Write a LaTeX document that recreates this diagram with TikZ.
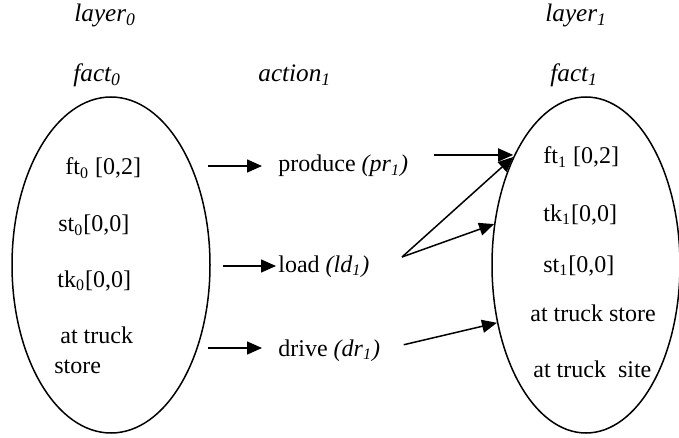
\documentclass[12pt,tikz,border=0pt]{standalone}
\usepackage{fontspec}
\setmainfont{Liberation Serif}
\usetikzlibrary{shapes.geometric,arrows.meta}

\begin{document}
\begin{tikzpicture}[x=0.5pt,y=-0.5pt,
        lbl/.style={anchor=base west, inner sep=0pt},
        head/.style={lbl, font=\fontsize{12.6}{15}\selectfont\itshape},
        factset/.style={draw, ellipse, line width=0.75pt, minimum width=#1, minimum height=168pt, inner sep=0pt},
        arr/.style={-{Triangle[length=7.5pt,width=6.5pt]}, line width=0.75pt}]
            \useasboundingbox (0,0) rectangle (679,438);
            % headings
            \node[head] (layer0) at (74,22) {layer\textsubscript{0}};
            \node[head] (layer1) at (545,22) {layer\textsubscript{1}};
            \node[head] (fact0) at (73,82) {fact\textsubscript{0}};
            \node[head] (action1) at (258,82) {action\textsubscript{1}};
            \node[head] (fact1) at (550,82) {fact\textsubscript{1}};
            % the two fact sets
            \node[factset=99pt] (set0) at (111,265) {};
            \node[factset=94pt] (set1) at (586,265) {};
            \node[lbl] (ft0) at (65,175) {ft\textsubscript{0} [0,2]};
            \node[lbl] (st0) at (58,232) {st\textsubscript{0}[0,0]};
            \node[lbl] (tk0) at (57,287) {tk\textsubscript{0}[0,0]};
            \node[lbl, align=left] (ts0) at (54,373) {\hspace{3pt}at truck\\[0.5pt]store};
            \node[lbl] (ft1) at (543,164) {ft\textsubscript{1} [0,2]};
            \node[lbl] (tk1) at (543,221) {tk\textsubscript{1}[0,0]};
            \node[lbl] (st1) at (543,272) {st\textsubscript{1}[0,0]};
            \node[lbl] (ts1) at (530,321) {at truck store};
            \node[lbl] (tsite1) at (533,377) {at truck\ \ site};
            % actions
            \node[lbl] (produce) at (278,172) {produce \textit{(pr\textsubscript{1})}};
            \node[lbl] (load) at (278,272) {load \textit{(ld\textsubscript{1})}};
            \node[lbl] (drive) at (278,356) {drive \textit{(dr\textsubscript{1})}};
            \coordinate (a0) at (208,166);
            \coordinate (a1) at (223,266);
            \coordinate (a2) at (208,348);
            \coordinate (t1) at (402,257);
            \draw[arr, shorten >=8pt] (a0) -- (a0 -| produce.west);
            \draw[arr, shorten >=1pt] (a1) -- (a1 -| load.west);
            \draw[arr, shorten >=8pt] (a2) -- (a2 -| drive.west);
            \draw[arr, shorten <=13pt] (produce.north east) -- (produce.north east -| set1.124);
            \draw[arr] (t1) -- (set1.124);
            \draw[arr] (t1) -- (set1.156);
            \draw[arr, shorten <=12pt] (drive.east) -- (set1.213);
        \end{tikzpicture}
\end{document}
